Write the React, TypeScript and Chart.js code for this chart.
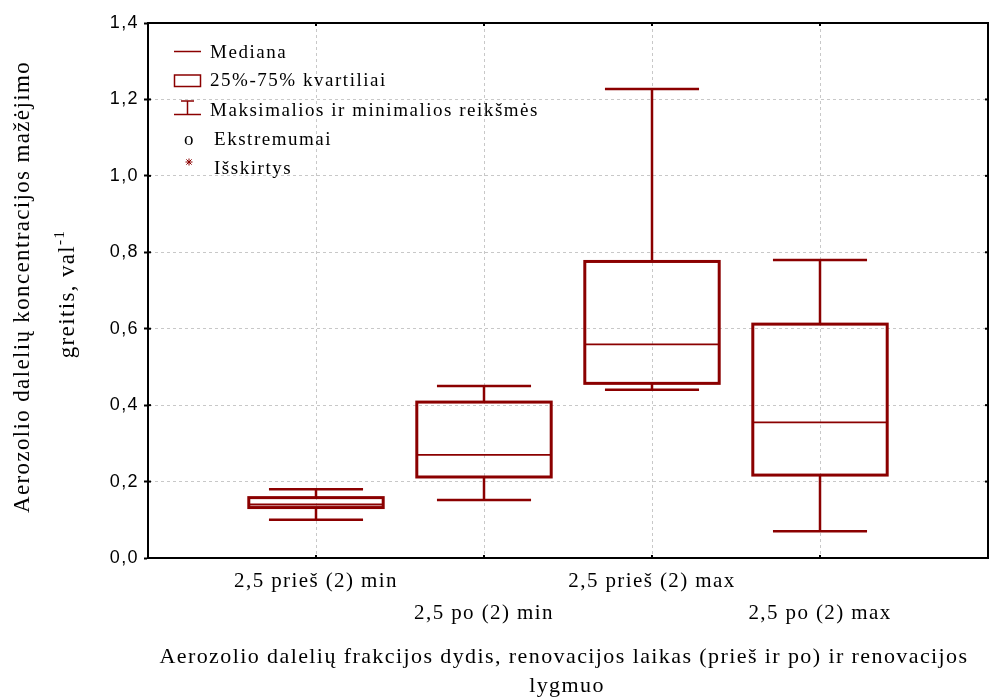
import React, { useEffect, useRef } from 'react';
import { Chart, registerables } from 'chart.js';

Chart.register(...registerables);

// ---- data ----
const categories = ['2,5 prieš (2) min', '2,5 po (2) min', '2,5 prieš (2) max', '2,5 po (2) max'];
const minValues = [0.1, 0.152, 0.44, 0.07];
const q1Values = [0.132, 0.212, 0.457, 0.217];
const medianValues = [0.14, 0.27, 0.559, 0.355];
const q3Values = [0.158, 0.408, 0.776, 0.612];
const maxValues = [0.18, 0.45, 1.227, 0.78];
const yMin = 0;
const yMax = 1.4;
const yStep = 0.2;
const legendLabels = ['Mediana', '25%-75% kvartiliai', 'Maksimalios ir minimalios reikšmės', 'Ekstremumai', 'Išskirtys'];
const xTitleLines = ['Aerozolio dalelių frakcijos dydis, renovacijos laikas (prieš ir po) ir renovacijos', 'lygmuo'];
const yTitleLines = ['Aerozolio dalelių koncentracijos mažėjimo', 'greitis, val'];
const yTitleSup = '-1';

// ---- style ----
const BOX_COLOR = '#8b0000';
const SERIF = '"Liberation Serif", "Times New Roman", serif';
const SANS = '"Liberation Sans", Arial, sans-serif';
const BOX_HALF = 0.4;
const CAP_HALF = 0.28;

function line(ctx: CanvasRenderingContext2D, x1: number, y1: number, x2: number, y2: number) {
  ctx.beginPath();
  ctx.moveTo(x1, y1);
  ctx.lineTo(x2, y2);
  ctx.stroke();
}

function spacingFor(ctx: CanvasRenderingContext2D, text: string, font: string, target: number) {
  ctx.font = font;
  (ctx as any).letterSpacing = '0px';
  const w = ctx.measureText(text).width;
  return Math.max(0, (target - w) / text.length);
}

const boxPlugin = {
  id: 'boxes',
  beforeDraw(chart: any) {
    (chart.ctx as any).letterSpacing = '1.4px';
  },
  afterDatasetsDraw(chart: any) {
    const { ctx } = chart;
    const x = chart.scales.x;
    const y = chart.scales.y;
    ctx.save();
    ctx.strokeStyle = BOX_COLOR;
    ctx.lineCap = 'butt';
    categories.forEach((_, i) => {
      const pos = i + 1;
      const cx = x.getPixelForValue(pos);
      const left = x.getPixelForValue(pos - BOX_HALF);
      const right = x.getPixelForValue(pos + BOX_HALF);
      const capL = x.getPixelForValue(pos - CAP_HALF);
      const capR = x.getPixelForValue(pos + CAP_HALF);
      const pMin = y.getPixelForValue(minValues[i]);
      const pQ1 = y.getPixelForValue(q1Values[i]);
      const pMed = y.getPixelForValue(medianValues[i]);
      const pQ3 = y.getPixelForValue(q3Values[i]);
      const pMax = y.getPixelForValue(maxValues[i]);
      ctx.lineWidth = 2.5;
      line(ctx, cx, pMax, cx, pQ3);
      line(ctx, cx, pQ1, cx, pMin);
      line(ctx, capL, pMax, capR, pMax);
      line(ctx, capL, pMin, capR, pMin);
      ctx.lineWidth = 3;
      ctx.strokeRect(left, pQ3, right - left, pQ1 - pQ3);
      ctx.lineWidth = 1.8;
      line(ctx, left, pMed, right, pMed);
    });
    ctx.restore();
  },
  afterDraw(chart: any) {
    const { ctx, chartArea } = chart;
    const x = chart.scales.x;
    const y = chart.scales.y;
    const { left, top, right, bottom } = chartArea;
    ctx.save();
    // frame
    ctx.strokeStyle = '#000';
    ctx.lineWidth = 2;
    ctx.strokeRect(left, top, right - left, bottom - top);
    // inner tick marks
    ctx.lineWidth = 2;
    for (let v = yMin + yStep; v < yMax - 1e-6; v += yStep) {
      const py = y.getPixelForValue(v);
      line(ctx, left, py, left + 3, py);
      line(ctx, right - 3, py, right, py);
    }
    categories.forEach((_, i) => {
      const px = x.getPixelForValue(i + 1);
      line(ctx, px, top, px, top + 3);
      line(ctx, px, bottom - 3, px, bottom);
    });

    // legend
    const legFont = `19px ${SERIF}`;
    const legLs = spacingFor(ctx, legendLabels[2], legFont, 329);
    const baselines = [57.7, 86.2, 115.8, 145, 174.2];
    ctx.font = legFont;
    (ctx as any).letterSpacing = `${legLs}px`;
    ctx.fillStyle = '#000';
    ctx.textAlign = 'left';
    ctx.textBaseline = 'alphabetic';
    legendLabels.forEach((t, i) => {
      ctx.fillText(t, i < 3 ? 210 : 214, baselines[i]);
    });
    ctx.fillText('o', 184, baselines[3]);
    ctx.strokeStyle = BOX_COLOR;
    ctx.lineWidth = 1.5;
    line(ctx, 174, 51.5, 201, 51.5);
    ctx.strokeRect(174.5, 75, 26, 11.5);
    line(ctx, 187.5, 101, 187.5, 114.5);
    line(ctx, 181, 101, 194, 101);
    line(ctx, 174, 114.5, 201, 114.5);
    // asterisk
    const ax = 189, ay = 162, r = 3.5;
    ctx.lineWidth = 1;
    line(ctx, ax, ay - r, ax, ay + r);
    line(ctx, ax - r, ay, ax + r, ay);
    line(ctx, ax - r * 0.75, ay - r * 0.75, ax + r * 0.75, ay + r * 0.75);
    line(ctx, ax - r * 0.75, ay + r * 0.75, ax + r * 0.75, ay - r * 0.75);

    // x title
    const titleFont = `22px ${SERIF}`;
    const tLs = spacingFor(ctx, xTitleLines[0], titleFont, 809);
    ctx.font = titleFont;
    (ctx as any).letterSpacing = `${tLs}px`;
    ctx.fillStyle = '#000';
    ctx.textAlign = 'center';
    ctx.fillText(xTitleLines[0], 564, 663);
    ctx.fillText(xTitleLines[1], 567, 692);

    // y title
    const yFont = `23px ${SERIF}`;
    const ls1 = spacingFor(ctx, yTitleLines[0], yFont, 452);
    ctx.save();
    ctx.translate(29, 287);
    ctx.rotate(-Math.PI / 2);
    ctx.font = yFont;
    (ctx as any).letterSpacing = `${ls1}px`;
    ctx.textAlign = 'center';
    ctx.fillText(yTitleLines[0], 0, 0);
    ctx.restore();

    ctx.save();
    ctx.translate(74, 294);
    ctx.rotate(-Math.PI / 2);
    ctx.textAlign = 'left';
    (ctx as any).letterSpacing = `${ls1}px`;
    ctx.font = yFont;
    const w1 = ctx.measureText(yTitleLines[1]).width;
    ctx.font = `15px ${SERIF}`;
    const w2 = ctx.measureText(yTitleSup).width;
    const start = -(w1 + w2) / 2;
    ctx.font = yFont;
    ctx.fillText(yTitleLines[1], start, 0);
    ctx.font = `15px ${SERIF}`;
    ctx.fillText(yTitleSup, start + w1, -10);
    ctx.restore();

    ctx.restore();
  },
};

export default function App() {
  const ref = useRef<HTMLCanvasElement>(null);
  useEffect(() => {
    const canvas = ref.current!;
    const chart = new Chart(canvas, {
      type: 'scatter',
      data: {
        datasets: [
          {
            data: categories.map((_, i) => ({ x: i + 1, y: medianValues[i] })),
            pointRadius: 0,
            showLine: false,
          },
        ],
      },
      options: {
        responsive: false,
        animation: false,
        devicePixelRatio: 1,
        layout: { padding: { top: 23, right: 1, left: 0, bottom: 0 } },
        plugins: { legend: { display: false }, tooltip: { enabled: false } },
        scales: {
          x: {
            type: 'linear',
            min: 0,
            max: categories.length + 1,
            afterFit: (s: any) => {
              s.height = 142;
              s.paddingRight = 0;
              s.paddingLeft = 0;
            },
            ticks: {
              stepSize: 1,
              autoSkip: false,
              maxRotation: 0,
              minRotation: 0,
              padding: 7,
              color: '#000',
              font: { family: SERIF, size: 21, lineHeight: 32 / 21 },
              callback: (value: any) => {
                const i = Number(value) - 1;
                if (i < 0 || i >= categories.length || !Number.isInteger(i)) return '';
                return i % 2 === 0 ? [categories[i]] : ['', categories[i]];
              },
            },
            grid: {
              drawTicks: false,
              lineWidth: 1,
              color: (c: any) =>
                c.tick && (c.tick.value <= 0 || c.tick.value >= categories.length + 1) ? 'rgba(0,0,0,0)' : '#c8c8c8',
            },
            border: { display: true, color: '#000', width: 2, dash: [3, 3] },
          },
          y: {
            type: 'linear',
            min: yMin,
            max: yMax,
            afterFit: (s: any) => {
              s.width = 148;
            },
            ticks: {
              stepSize: yStep,
              padding: 5,
              color: '#000',
              font: { family: SANS, size: 18 },
              callback: (value: any) => Number(value).toFixed(1).replace('.', ','),
            },
            grid: {
              drawTicks: true,
              tickLength: 4,
              tickColor: '#000',
              tickWidth: 2,
              lineWidth: 1,
              color: (c: any) =>
                c.tick && (c.tick.value <= yMin + 1e-6 || c.tick.value >= yMax - 1e-6) ? 'rgba(0,0,0,0)' : '#c8c8c8',
            },
            border: { display: true, color: '#000', width: 2, dash: [3, 3] },
          },
        },
      },
      plugins: [boxPlugin],
    });
    return () => chart.destroy();
  }, []);
  return (
    <div style={{ position: 'fixed', left: 0, top: 0, width: 989, height: 700, background: '#fff' }}>
      <canvas ref={ref} width={989} height={700} style={{ display: 'block' }} />
    </div>
  );
}
